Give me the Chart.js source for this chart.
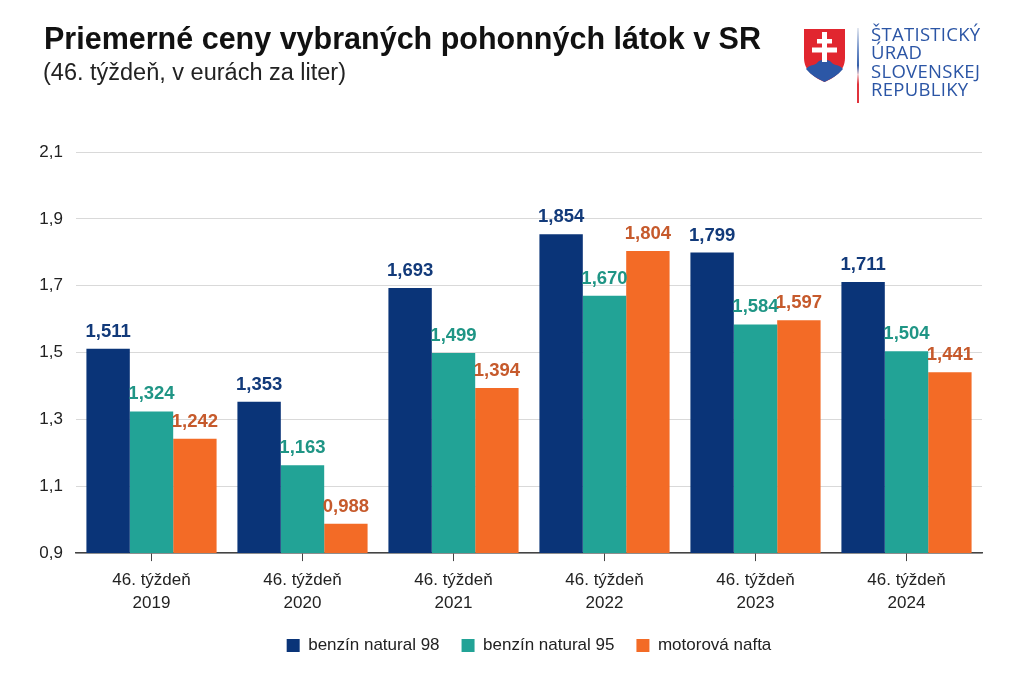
<!DOCTYPE html>
<html lang="sk">
<head>
<meta charset="utf-8">
<script src="https://cdn.jsdelivr.net/npm/chart.js@4"></script>
<style>
  html, body { margin: 0; padding: 0; background: #fff; }
  body { width: 1024px; height: 696px; position: relative; overflow: hidden; font-family: "Liberation Sans", Arial, sans-serif; }
  #graf { position: absolute; left: 0; top: 0; }
  .titulok { position: absolute; left: 44px; top: 21px; font-size: 30.5px; font-weight: bold; color: #111; white-space: nowrap; }
  .podtitulok { position: absolute; left: 43px; top: 59px; font-size: 23.5px; color: #222; white-space: nowrap; }
  .logo { position: absolute; left: 803px; top: 28px; }
  .ciara { position: absolute; left: 857px; top: 28px; width: 2px; height: 75px;
           background: linear-gradient(#e4e8f0 0%, #6f8fc8 30%, #3560ab 50%, #f0d0d4 62%, #e0333c 75%, #e0333c 100%); }
  .urad { position: absolute; left: 871px; top: 25px; font-family: "Open Sans", "Noto Sans", sans-serif; font-size: 18.5px;
          line-height: 18.3px; letter-spacing: 0.3px; color: #2b55a5; white-space: nowrap; }
</style>
</head>
<body>
<canvas id="graf" width="1024" height="696"></canvas>
<div class="titulok">Priemerné ceny vybraných pohonných látok v SR</div>
<div class="podtitulok">(46. týždeň, v eurách za liter)</div>
<svg class="logo" width="43" height="55" viewBox="0 0 43 55">
  <path d="M1 1 H42 V30 C42 43 31 50 21.5 54 C12 50 1 43 1 30 Z" fill="#e1262f"/>
  <path d="M3 41 C7 36 11 38 14 35 C17 31 20 33 21.5 30 C23 33 26 31 29 35 C32 38 36 36 40 41 C35 47 28 51 21.5 54 C15 51 8 47 3 41 Z" fill="#2c57a6"/>
  <rect x="19" y="4" width="5" height="30" fill="#fff"/>
  <rect x="14" y="11" width="15" height="4.5" fill="#fff"/>
  <rect x="9" y="19.5" width="25" height="5" fill="#fff"/>
</svg>
<div class="ciara"></div>
<div class="urad">ŠTATISTICKÝ<br>ÚRAD<br>SLOVENSKEJ<br>REPUBLIKY</div>
<script>
const tyzdne = [["46. týždeň", "2019"], ["46. týždeň", "2020"], ["46. týždeň", "2021"],
                ["46. týždeň", "2022"], ["46. týždeň", "2023"], ["46. týždeň", "2024"]];
const natural98 = [1.511, 1.353, 1.693, 1.854, 1.799, 1.711];
const natural95 = [1.324, 1.163, 1.499, 1.670, 1.584, 1.504];
const nafta = [1.242, 0.988, 1.394, 1.804, 1.597, 1.441];

const farby = ["#0a3478", "#22a396", "#f36b26"];
const farbyTextu = ["#123a7a", "#1f9585", "#c65a2c"];
const pismo = "'Liberation Sans', Arial, sans-serif";

function ciarka(v, d) {
  return v.toFixed(d).replace(".", ",");
}

// hodnoty nad stlpcami
const popisky = {
  id: "popisky",
  afterDatasetsDraw(chart) {
    const ctx = chart.ctx;
    ctx.save();
    ctx.font = "bold 18.5px " + pismo;
    ctx.textAlign = "center";
    ctx.textBaseline = "alphabetic";
    chart.data.datasets.forEach((ds, i) => {
      chart.getDatasetMeta(i).data.forEach((bar, j) => {
        ctx.fillStyle = farbyTextu[i];
        ctx.fillText(ciarka(ds.data[j], 3), bar.x, bar.y - 12);
      });
    });
    ctx.restore();
  }
};

new Chart(document.getElementById("graf"), {
  type: "bar",
  data: {
    labels: tyzdne,
    datasets: [
      { label: "benzín natural 98", data: natural98, backgroundColor: farby[0] },
      { label: "benzín natural 95", data: natural95, backgroundColor: farby[1] },
      { label: "motorová nafta", data: nafta, backgroundColor: farby[2] }
    ]
  },
  options: {
    responsive: false,
    animation: false,
    datasets: { bar: { categoryPercentage: 0.862, barPercentage: 1 } },
    layout: { padding: { top: 152, right: 42, bottom: 32, left: 0 } },
    plugins: {
      title: { display: false },
      tooltip: { enabled: false },
      legend: {
        position: "bottom",
        fullSize: false,
        labels: {
          boxWidth: 13, boxHeight: 13, padding: 22, color: "#222",
          font: { size: 17, family: pismo }
        }
      }
    },
    scales: {
      y: {
        min: 0.9, max: 2.1,
        afterFit: s => { s.width = 76; },
        ticks: {
          stepSize: 0.2, padding: 13, color: "#222",
          font: { size: 17, family: pismo },
          callback: v => ciarka(v, 1)
        },
        grid: { color: "#d9d9d9", drawTicks: false },
        border: { display: false }
      },
      x: {
        afterFit: s => { s.height -= 8; },
        grid: { offset: false, drawOnChartArea: false, drawTicks: true, tickLength: 8, color: "#444" },
        border: { color: "#444", width: 1.5 },
        ticks: {
          color: "#222", padding: 8,
          font: { size: 17, family: pismo, lineHeight: 1.35 }
        }
      }
    }
  },
  plugins: [popisky]
});
</script>
</body>
</html>
